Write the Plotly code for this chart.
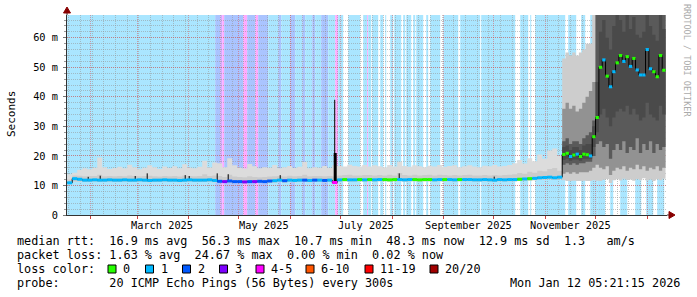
import plotly.graph_objects as go
from datetime import datetime, timedelta

# ---------------- data ----------------
BASE = datetime(2025, 1, 18)          # start of first data bin
X_START = datetime(2025, 1, 17, 21)
X_END = datetime(2026, 1, 12, 21)
Y_MAX = 67.7                          # ms

STABLE_BIN_DAYS = 3
LATE_BIN_DAYS = 2
LATE_FIRST_DAY = 297

# stable period (3-day bins), values in ms
STABLE_MED = [
    10.9, 12.3, 12.1, 11.8, 11.8, 11.9, 11.8, 11.8, 11.9, 11.8,
    11.8, 11.9, 11.8, 11.8, 11.9, 11.8, 11.7, 11.8, 11.8, 11.9,
    11.8, 11.8, 11.7, 11.8, 11.9, 11.8, 11.8, 11.8, 11.9, 11.7,
    11.4, 11.3, 11.5, 11.3, 11.3, 11.2, 11.3, 11.3, 11.4, 11.3,
    11.5, 11.6, 11.8, 11.6, 11.8, 11.7, 11.8, 11.8, 11.7, 11.8,
    11.8, 11.7, 11.8, 11.0, 11.9, 12.0, 11.9, 11.9, 12.0, 11.9,
    12.0, 11.9, 12.0, 12.0, 11.9, 12.0, 12.0, 11.9, 12.0, 12.0,
    11.9, 12.0, 12.0, 11.9, 12.0, 12.0, 12.0, 11.9, 12.0, 12.0,
    12.0, 11.9, 11.9, 12.0, 11.9, 11.8, 12.0, 11.9, 12.0, 12.0,
    12.1, 12.2, 12.3, 12.4, 12.6, 12.7, 12.8, 12.6, 12.8]
STABLE_LO = [
    10.4, 11.3, 11.3, 11.2, 11.2, 11.3, 11.2, 11.2, 11.3, 11.2,
    11.2, 11.3, 11.2, 11.2, 11.3, 11.2, 11.1, 11.2, 11.2, 11.3,
    11.2, 11.2, 11.1, 11.2, 11.3, 11.2, 11.2, 11.2, 11.3, 11.1,
    10.9, 10.8, 10.9, 10.8, 10.8, 10.7, 10.8, 10.8, 10.9, 10.8,
    10.9, 11.0, 11.2, 11.0, 11.2, 11.1, 11.2, 11.2, 11.1, 11.2,
    11.2, 11.1, 11.2, 10.5, 11.3, 11.4, 11.3, 11.3, 11.4, 11.3,
    11.4, 11.3, 11.4, 11.4, 11.3, 11.4, 11.4, 11.3, 11.4, 11.4,
    11.3, 11.4, 11.4, 11.3, 11.4, 11.4, 11.4, 11.3, 11.4, 11.4,
    11.4, 11.3, 11.3, 11.4, 11.3, 11.2, 11.4, 11.3, 11.4, 11.4,
    11.5, 11.6, 11.7, 11.8, 11.9, 12.0, 12.1, 11.9, 12.1]
STABLE_P75 = [
    12.0, 13.4, 13.3, 13.1, 13.2, 13.2, 13.6, 13.1, 13.2, 13.1,
    13.2, 13.1, 13.4, 13.2, 13.1, 13.2, 13.3, 13.1, 13.0, 13.2,
    13.1, 13.2, 13.0, 13.4, 13.2, 13.1, 13.2, 13.8, 13.2, 13.4,
    13.2, 12.9, 13.6, 13.0, 12.9, 12.8, 13.1, 12.9, 12.8, 12.9,
    13.0, 13.1, 13.2, 13.0, 13.3, 13.1, 13.2, 13.6, 13.1, 13.2,
    13.2, 13.1, 13.2, 13.0, 13.4, 13.5, 13.6, 13.4, 13.4, 13.5,
    13.5, 13.4, 13.5, 13.4, 13.6, 13.4, 14.2, 13.5, 13.4, 13.6,
    13.4, 13.5, 13.6, 13.4, 13.6, 13.5, 13.4, 13.5, 13.4, 13.5,
    13.6, 13.4, 13.4, 13.5, 13.4, 13.5, 13.4, 13.5, 13.6, 13.8,
    14.2, 14.0, 14.6, 14.3, 15.0, 14.8, 15.6, 15.9, 15.0]
STABLE_HI = [
    13.8, 14.3, 15.3, 15.8, 15.5, 16.0, 19.5, 16.2, 15.6, 15.9,
    16.3, 15.8, 17.0, 16.2, 15.5, 16.0, 16.8, 16.2, 15.6, 16.4,
    15.9, 16.5, 15.8, 17.2, 16.0, 15.8, 16.3, 18.4, 16.1, 17.8,
    17.5, 16.2, 19.2, 16.8, 16.0, 15.7, 17.3, 16.5, 15.8, 16.2,
    16.0, 16.9, 15.8, 16.2, 16.6, 15.9, 16.3, 17.9, 15.8, 16.2,
    16.0, 16.6, 15.9, 16.8, 16.6, 16.4, 17.0, 16.6, 16.4, 16.9,
    16.4, 16.8, 16.5, 16.2, 16.9, 16.4, 18.0, 16.6, 16.3, 16.8,
    16.5, 16.2, 16.7, 16.4, 16.9, 16.3, 16.6, 16.8, 16.2, 16.5,
    16.8, 16.4, 16.2, 16.7, 16.5, 16.9, 16.4, 16.6, 16.9, 17.5,
    18.6, 17.4, 19.2, 18.2, 20.5, 19.0, 21.8, 22.5, 20.0]
STABLE_LOSS = [
    1, 1, 1, 1, 1, 1, 1, 1, 1, 1,
    1, 1, 1, 1, 1, 1, 1, 1, 1, 1,
    1, 1, 1, 1, 1, 1, 1, 1, 1, 1,
    2, 3, 2, 2, 2, 3, 2, 3, 2, 2,
    2, 1, 1, 2, 1, 1, 1, 2, 1, 2,
    1, 2, 1, 4, 1, 0, 1, 1, 0, 1,
    0, 1, 1, 0, 0, 0, 1, 1, 1, 0,
    0, 0, 0, 1, 1, 0, 1, 1, 0, 1,
    1, 1, 1, 1, 1, 1, 1, 1, 1, 1,
    0, 1, 0, 1, 1, 1, 1, 1, 1]

# late period (2-day bins), values in ms
LATE_MED = [20.5, 20.9, 19.8, 20.3, 20.6, 19.8, 20.6, 20.4, 20.0, 26.5, 33.0,
            50.0, 52.5, 47.0, 43.4, 48.5, 51.5, 54.0, 52.0, 53.6, 50.3, 53.0,
            49.1, 47.4, 47.4, 56.0, 49.5, 48.5, 46.8, 54.0, 49.0]
LATE_LOSS = [0, 0, 1, 0, 1, 0, 0, 0, 1, 0, 0, 0, 1, 0, 1, 1, 0, 0, 1, 0, 1,
             0, 1, 1, 1, 1, 1, 0, 0, 0, 0]
LATE_LO = [11.8, 11.5, 11.5, 11.6, 11.5, 11.5, 11.6, 11.5, 11.5, 11.8, 11.6,
           11.5, 11.9, 12.2, 10.8, 11.8, 12.1, 11.7, 12.3, 11.9, 12.0, 11.6,
           12.2, 11.8, 12.4, 11.7, 12.0, 11.5, 12.1, 11.8, 12.3]
LATE_P10 = [14.0, 14.5, 14.0, 14.5, 14.0, 14.5, 14.5, 14.5, 15.0, 16.0, 17.0,
            16.0, 15.5, 16.5, 13.5, 15.0, 16.0, 15.5, 16.5, 15.0, 16.0, 15.5,
            17.0, 15.5, 16.5, 15.0, 16.0, 15.5, 16.5, 15.0, 16.0]
LATE_P25 = [17.0, 17.5, 17.0, 17.5, 17.0, 17.5, 17.5, 18.0, 18.0, 20.0, 24.0,
            25.0, 23.0, 24.0, 19.0, 22.0, 24.0, 22.0, 25.0, 21.0, 23.0, 22.0,
            26.0, 21.0, 24.0, 22.0, 25.0, 21.0, 24.0, 22.0, 23.0]
LATE_P35 = [18.6, 19.0, 18.4, 18.8, 18.8, 18.4, 19.0, 19.0, 19.0, 23.0, 28.0,
            34.0, 36.0, 33.0, 30.0, 33.0, 35.0, 36.0, 35.0, 37.0, 34.0, 36.0,
            34.0, 32.0, 33.0, 38.0, 34.0, 33.0, 32.0, 37.0, 34.0]
LATE_P65 = [23.0, 23.5, 22.0, 23.0, 23.0, 22.0, 23.5, 24.0, 24.0, 30.0, 45.0,
            62.0, 66.0, 60.0, 56.0, 64.0, 68.0, 66.0, 62.0, 68.0, 63.0, 67.0,
            61.0, 60.0, 62.0, 70.0, 64.0, 61.0, 59.0, 68.0, 63.0]
LATE_P75 = [25.0, 26.0, 24.0, 25.0, 25.0, 24.0, 26.0, 27.0, 28.0, 32.0, 75.0,
            80.0, 80.0, 80.0, 80.0, 80.0, 80.0, 80.0, 80.0, 80.0, 80.0, 80.0,
            80.0, 80.0, 80.0, 80.0, 80.0, 80.0, 80.0, 80.0, 80.0]
LATE_P90 = [36.0, 38.0, 36.0, 37.0, 35.0, 36.0, 38.0, 40.0, 42.0, 45.0, 80.0,
            80.0, 80.0, 80.0, 80.0, 80.0, 80.0, 80.0, 80.0, 80.0, 80.0, 80.0,
            80.0, 80.0, 80.0, 80.0, 80.0, 80.0, 80.0, 80.0, 80.0]
LATE_HI = [53.0, 55.0, 54.0, 55.0, 54.0, 55.0, 56.0, 58.0, 58.0, 80.0, 80.0,
           80.0, 80.0, 80.0, 80.0, 80.0, 80.0, 80.0, 80.0, 80.0, 80.0, 80.0,
           80.0, 80.0, 80.0, 80.0, 80.0, 80.0, 80.0, 80.0, 80.0]

# short latency spikes: day offset, base ms, top ms
SPIKE_DAYS = [12.6, 19.8, 40.8, 48.0, 70.8, 73.2, 90.0, 96.6, 127.8, 160.5, 199.2, 256.2]
SPIKE_BASE = [11.8, 11.8, 11.8, 11.8, 11.8, 11.8, 11.3, 11.3, 11.8, 11.0, 12.0, 12.0]
SPIKE_TOPS = [12.9, 13.3, 13.2, 14.1, 13.5, 13.2, 14.1, 13.8, 13.5, 39.0, 14.1, 13.0]
THICK_SPIKE_DAYS = [160.8]
THICK_SPIKE_BASE = [11.0]
THICK_SPIKE_TOPS = [21.0]

# packet loss background: (start day, end day, loss class)
BG_SEGMENTS = [
    (0.0, 88.8, 1), (88.8, 91.8, 2), (91.8, 93.0, 3), (93.0, 94.2, 4),
    (94.2, 105.6, 2), (105.6, 108.0, 4), (108.0, 112.8, 2), (112.8, 114.6, 4),
    (114.6, 120.6, 2), (120.6, 126.6, 1), (126.6, 128.4, 2), (128.4, 133.8, 1),
    (133.8, 136.8, 2), (136.8, 141.0, 1), (141.0, 142.8, 2), (142.8, 147.0, 1),
    (147.0, 148.8, 2), (148.8, 152.4, 1), (152.4, 156.6, 2), (156.6, 160.8, 1),
    (160.8, 162.6, 4), (162.6, 165.6, 1), (168.6, 175.8, 1), (177.6, 180.0, 1),
    (180.0, 180.6, 4), (180.6, 182.4, 1), (183.0, 186.6, 1), (187.8, 189.6, 1),
    (190.8, 191.4, 1), (193.8, 195.6, 1), (196.2, 200.4, 1), (201.6, 202.8, 1),
    (203.4, 206.4, 1), (207.6, 208.8, 1), (209.4, 213.6, 1), (215.4, 216.6, 1),
    (217.8, 223.8, 1), (225.6, 234.6, 1), (235.8, 247.8, 1), (248.4, 268.8, 1),
    (271.8, 276.6, 1), (277.8, 278.4, 1), (280.8, 298.8, 1), (300.6, 305.4, 1),
    (308.4, 310.8, 1), (313.8, 318.0, 1), (318.0, 322.8, 1), (325.8, 327.6, 1),
    (331.8, 336.0, 1), (340.8, 344.4, 1), (347.4, 351.6, 1), (354.0, 358.2, 1),
]

X_LABELS = ["March 2025", "May 2025", "July 2025", "September 2025", "November 2025"]
X_LABEL_DATES = ["2025-03-16", "2025-05-16", "2025-07-16", "2025-09-16", "2025-11-16"]
Y_TICKS = [0, 10, 20, 30, 40, 50, 60]
Y_TICK_TEXT = ["0", "10 m", "20 m", "30 m", "40 m", "50 m", "60 m"]

LEGEND_LABELS = ["0", "1", "2", "3", "4-5", "6-10", "11-19", "20/20"]
LOSS_COLORS = ["#26ff00", "#00b8ff", "#0059ff", "#7e00ff", "#ff00ff", "#ff5500", "#ff0000", "#a10000"]
BG_COLORS = {1: "rgb(170,230,255)", 2: "rgb(170,196,255)", 3: "rgb(212,170,255)", 4: "rgb(255,170,255)"}

LINE1 = "median rtt:  16.9 ms avg  56.3 ms max  10.7 ms min  48.3 ms now  12.9 ms sd  1.3   am/s"
LINE2 = "packet loss: 1.63 % avg  24.67 % max  0.00 % min  0.02 % now"
LINE3 = "loss color:"
LINE4 = "probe:" + " " * 7 + "20 ICMP Echo Pings (56 Bytes) every 300s"
STAMP = "Mon Jan 12 05:21:15 2026"
WATERMARK = "RRDTOOL / TOBI OETIKER"

# ---------------- helpers ----------------
MONO = "DejaVu Sans Mono"
PL, PT, PW, PH = 67, 15, 600, 200
LEG_SIZE = 11.8


def px(x):
    return (x - PL) / PW


def py(y):
    return (PT + PH - y) / PH


def day(d):
    return BASE + timedelta(days=d)


def mono(s):
    return s.replace(" ", "\u00a0")


stable_starts = [day(i * STABLE_BIN_DAYS) for i in range(len(STABLE_MED))]
stable_end = day(len(STABLE_MED) * STABLE_BIN_DAYS)
late_starts = [day(LATE_FIRST_DAY + j * LATE_BIN_DAYS) for j in range(len(LATE_MED))]
late_end = day(LATE_FIRST_DAY + len(LATE_MED) * LATE_BIN_DAYS)

fig = go.Figure()


def band(starts, end, lo, hi, color):
    x = starts + [end]
    fig.add_trace(go.Scatter(x=x, y=list(lo) + [lo[-1]], mode="lines",
                             line=dict(width=0, shape="hv"), hoverinfo="skip"))
    fig.add_trace(go.Scatter(x=x, y=list(hi) + [hi[-1]], mode="lines",
                             line=dict(width=0, shape="hv"), fill="tonexty",
                             fillcolor=color, hoverinfo="skip"))


# smoke
band(stable_starts, stable_end, STABLE_LO, STABLE_HI, "#dcdcdc")
band(stable_starts, stable_end, STABLE_LO, STABLE_P75, "#cbcbcb")
band(late_starts, late_end, LATE_LO, LATE_HI, "#cdcdcd")
band(late_starts, late_end, LATE_P10, LATE_P90, "#929292")
band(late_starts, late_end, LATE_P25, LATE_P75, "#5a5a5a")
band(late_starts, late_end, LATE_P35, LATE_P65, "#4a4a4a")

# spikes
sx, sy = [], []
for d, b, t in zip(SPIKE_DAYS, SPIKE_BASE, SPIKE_TOPS):
    sx += [day(d), day(d), None]
    sy += [b, t, None]
fig.add_trace(go.Scatter(x=sx, y=sy, mode="lines", line=dict(color="#000000", width=1), hoverinfo="skip"))
tx, ty = [], []
for d, b, t in zip(THICK_SPIKE_DAYS, THICK_SPIKE_BASE, THICK_SPIKE_TOPS):
    tx += [day(d), day(d), None]
    ty += [b, t, None]
fig.add_trace(go.Scatter(x=tx, y=ty, mode="lines", line=dict(color="#000000", width=3), hoverinfo="skip"))

# median
all_starts = stable_starts + late_starts
all_ends = stable_starts[1:] + [stable_end] + late_starts[1:] + [late_end]
all_med = STABLE_MED + LATE_MED
all_loss = STABLE_LOSS + LATE_LOSS
fig.add_trace(go.Scatter(x=all_starts + [late_end], y=all_med + [all_med[-1]], mode="lines",
                         line=dict(color="#000000", width=1, shape="hv"), hoverinfo="skip"))
for code in sorted(set(all_loss)):
    xs, ys = [], []
    for s, e, m, c in zip(all_starts, all_ends, all_med, all_loss):
        if c == code:
            xs += [s, e, None]
            ys += [m, m, None]
    fig.add_trace(go.Scatter(x=xs, y=ys, mode="lines",
                             line=dict(color=LOSS_COLORS[code], width=3), hoverinfo="skip"))

shapes = []
# loss background
for s, e, c in BG_SEGMENTS:
    shapes.append(dict(type="rect", xref="x", yref="paper", x0=day(s), x1=day(e), y0=0, y1=1,
                       fillcolor=BG_COLORS[c], line=dict(width=0), layer="below"))
# arrows
ARROW = "#880000"
shapes.append(dict(type="line", xref="paper", yref="paper", x0=px(67), x1=px(67), y0=py(15), y1=py(11),
                   line=dict(color="#333333", width=1)))
shapes.append(dict(type="path", xref="paper", yref="paper",
                   path=f"M {px(67)},{py(7)} L {px(63.5)},{py(13)} L {px(70.5)},{py(13)} Z",
                   fillcolor=ARROW, line=dict(color=ARROW, width=1)))
shapes.append(dict(type="line", xref="paper", yref="paper", x0=px(667), x1=px(670), y0=py(215), y1=py(215),
                   line=dict(color="#333333", width=1)))
shapes.append(dict(type="path", xref="paper", yref="paper",
                   path=f"M {px(675)},{py(215)} L {px(669)},{py(211.5)} L {px(669)},{py(218.5)} Z",
                   fillcolor=ARROW, line=dict(color=ARROW, width=1)))

annotations = []
SW_X = [108, 145.5, 182.5, 219.5, 256, 306, 365, 430]
for xs0, col, lab in zip(SW_X, LOSS_COLORS, LEGEND_LABELS):
    shapes.append(dict(type="rect", xref="paper", yref="paper", x0=px(xs0), x1=px(xs0 + 8),
                       y0=py(273), y1=py(265), fillcolor=col, line=dict(color="#000000", width=1)))
    annotations.append(dict(x=px(xs0 + 13), y=py(269), xref="paper", yref="paper", text=mono(lab),
                            showarrow=False, xanchor="left", yanchor="middle",
                            font=dict(family=MONO, size=LEG_SIZE, color="#000")))

for txt, yy in [(LINE1, 241), (LINE2, 255), (LINE3, 269), (LINE4, 283)]:
    annotations.append(dict(x=px(15), y=py(yy), xref="paper", yref="paper", text=mono(txt),
                            showarrow=False, xanchor="left", yanchor="middle",
                            font=dict(family=MONO, size=LEG_SIZE, color="#000")))
annotations.append(dict(x=px(682), y=py(283), xref="paper", yref="paper", text=mono(STAMP),
                        showarrow=False, xanchor="right", yanchor="middle",
                        font=dict(family=MONO, size=LEG_SIZE, color="#000")))
for lab, d in zip(X_LABELS, X_LABEL_DATES):
    annotations.append(dict(x=d, y=py(225), xref="x", yref="paper", text=mono(lab),
                            showarrow=False, xanchor="center", yanchor="middle",
                            font=dict(family=MONO, size=10.3, color="#000")))
annotations.append(dict(x=px(11), y=py(114), xref="paper", yref="paper", text="Seconds",
                        showarrow=False, textangle=-90, xanchor="center", yanchor="middle",
                        font=dict(family=MONO, size=11, color="#000")))
annotations.append(dict(x=px(687), y=py(60), xref="paper", yref="paper", text=mono(WATERMARK),
                        showarrow=False, textangle=90, xanchor="center", yanchor="middle",
                        font=dict(family=MONO, size=8.5, color="#aaaaaa")))

MINOR_GRID = "rgba(150,150,150,0.55)"
MAJOR_GRID = "rgba(230,60,60,0.45)"

fig.update_layout(
    width=697, height=297, autosize=False,
    margin=dict(l=PL, r=697 - PL - PW, t=PT, b=297 - PT - PH, pad=0),
    paper_bgcolor="#ffffff", plot_bgcolor="#ffffff",
    showlegend=False, shapes=shapes, annotations=annotations,
    xaxis=dict(type="date", range=[X_START, X_END], showticklabels=False,
               tick0="2025-01-01", dtick="M1", ticks="outside", ticklen=3, tickcolor="#cc4444",
               showgrid=True, gridcolor=MAJOR_GRID, griddash="1px,1px", gridwidth=1,
               minor=dict(tick0="2025-01-25 21:00", dtick=7 * 86400000, showgrid=True,
                          gridcolor=MINOR_GRID, griddash="1px,1px", ticks=""),
               showline=True, linecolor="#333333", linewidth=1, zeroline=False, fixedrange=True),
    yaxis=dict(range=[0, Y_MAX], tickmode="array", tickvals=Y_TICKS, ticktext=[mono(t) for t in Y_TICK_TEXT],
               ticks="outside", ticklen=3, tickcolor="#777777", ticklabelstandoff=3,
               tickfont=dict(family=MONO, size=10.3, color="#000"),
               showgrid=True, gridcolor=MAJOR_GRID, griddash="1px,1px", gridwidth=1,
               minor=dict(dtick=2, showgrid=True, gridcolor=MINOR_GRID, griddash="1px,1px",
                          ticks="outside", ticklen=2, tickcolor="#999999"),
               showline=True, linecolor="#333333", linewidth=1, zeroline=False, fixedrange=True),
)

fig.write_html("out.html")
